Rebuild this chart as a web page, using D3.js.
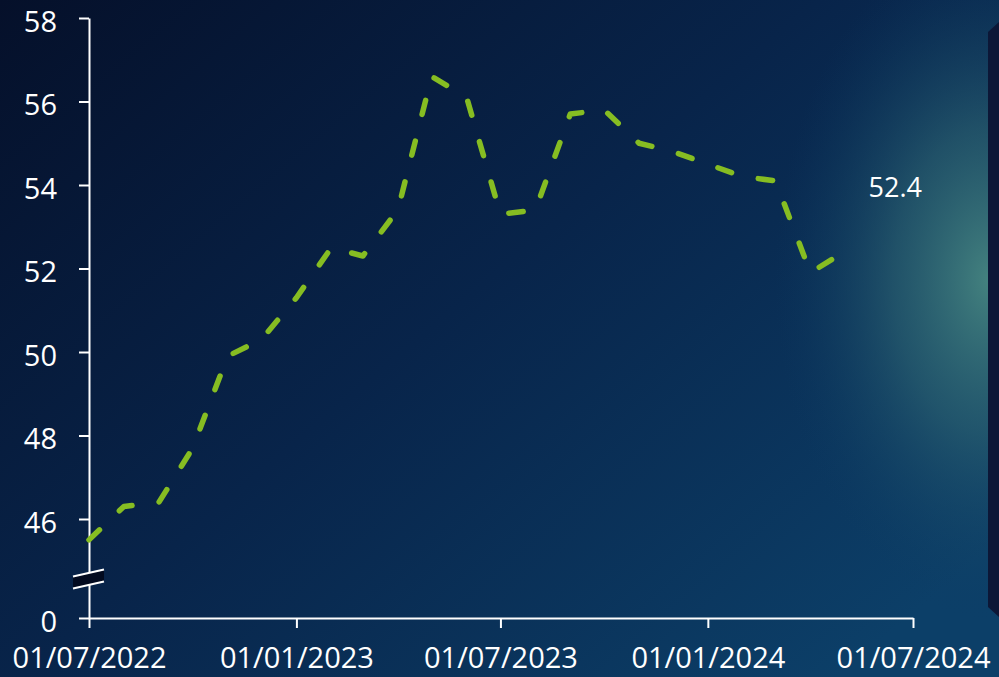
<!DOCTYPE html>
<html>
<head>
<meta charset="utf-8">
<script src="https://cdn.jsdelivr.net/npm/d3@7"></script>
<style>
  html, body { margin: 0; padding: 0; overflow: hidden; background: #07142c; }
  svg { display: block; }
</style>
</head>
<body>
<script>
// monthly readings, Jul 2022 - May 2024
const months = ["2022-07-01", "2022-08-01", "2022-09-01", "2022-10-01", "2022-11-01", "2022-12-01",
                "2023-01-01", "2023-02-01", "2023-03-01", "2023-04-01", "2023-05-01", "2023-06-01",
                "2023-07-01", "2023-08-01", "2023-09-01", "2023-10-01", "2023-11-01", "2023-12-01",
                "2024-01-01", "2024-02-01", "2024-03-01", "2024-04-01", "2024-05-01"];
const values = [45.5, 46.3, 46.4, 47.7, 49.9, 50.3,
                51.3, 52.5, 52.3, 53.4, 56.6, 56.1,
                53.3, 53.4, 55.7, 55.8, 55.0, 54.8,
                54.5, 54.2, 54.1, 51.9, 52.4];
const yTicks = [0, 46, 48, 50, 52, 54, 56, 58];
const xTicks = ["2022-07-01", "2023-01-01", "2023-07-01", "2024-01-01", "2024-07-01"];

const width = 999, height = 677;
const parse = d3.utcParse("%Y-%m-%d");
const data = months.map((m, i) => ({date: parse(m), v: values[i]}));

const svg = d3.select("body").append("svg")
  .attr("width", width)
  .attr("height", height)
  .style("font-family", "'Open Sans', sans-serif");

// background
const defs = svg.append("defs");
const bg = defs.append("linearGradient").attr("id", "bg")
  .attr("x1", 0).attr("y1", 0).attr("x2", 1).attr("y2", 0.8);
bg.append("stop").attr("offset", 0).attr("stop-color", "#05102a");
bg.append("stop").attr("offset", 0.5).attr("stop-color", "#08244a");
bg.append("stop").attr("offset", 1).attr("stop-color", "#0c3f68");

const glow = defs.append("radialGradient").attr("id", "glow");
glow.append("stop").attr("offset", 0).attr("stop-color", "#44827f").attr("stop-opacity", 1);
glow.append("stop").attr("offset", 0.45).attr("stop-color", "#2f6773").attr("stop-opacity", 0.6);
glow.append("stop").attr("offset", 1).attr("stop-color", "#0c3a62").attr("stop-opacity", 0);

svg.append("rect").attr("width", width).attr("height", height).attr("fill", "url(#bg)");
svg.append("ellipse")
  .attr("cx", 990).attr("cy", 280).attr("rx", 215).attr("ry", 340)
  .attr("fill", "url(#glow)");

// dark panel at right edge
svg.append("polygon")
  .attr("points", "988,32 999,22 999,617 988,607")
  .attr("fill", "#0c1737");

// scales
const x = d3.scaleUtc()
  .domain([parse(xTicks[0]), parse(xTicks[xTicks.length - 1])])
  .range([89, 913]);

// broken axis: 0 at the bottom, then 44..58 linear
const y = d3.scaleLinear()
  .domain([0, 44, 58])
  .range([618, 602.5, 18]);

// y axis
svg.append("g")
  .attr("transform", "translate(89,0)")
  .call(d3.axisLeft(y).tickValues(yTicks).tickSize(10).tickSizeOuter(0).tickPadding(22)
    .tickFormat(d3.format("d")))
  .selectAll(".tick text")
  .attr("dy", "0.45em");

// x axis
svg.append("g")
  .attr("transform", "translate(0,618)")
  .call(d3.axisBottom(x).tickValues(xTicks.map(parse)).tickSize(10).tickSizeOuter(0).tickPadding(19)
    .tickFormat(d3.utcFormat("%d/%m/%Y")));

svg.selectAll(".domain, .tick line")
  .attr("stroke", "#ffffff")
  .attr("stroke-width", 2);
svg.selectAll(".tick text")
  .attr("fill", "#ffffff")
  .style("font-size", "29px")
  .style("font-family", "'Open Sans', sans-serif");

// axis break marks
const yb = y(0) - 0.4 * (y(0) - y(46)) + 3;
svg.append("polygon")
  .attr("points", [[73, yb - 5], [104, yb - 12], [104, yb], [73, yb + 7]].map(p => p.join(",")).join(" "))
  .attr("fill", "#020a1f");
svg.append("line")
  .attr("x1", 73).attr("y1", yb - 5).attr("x2", 104).attr("y2", yb - 12)
  .attr("stroke", "#fff").attr("stroke-width", 2);
svg.append("line")
  .attr("x1", 73).attr("y1", yb + 7).attr("x2", 104).attr("y2", yb)
  .attr("stroke", "#fff").attr("stroke-width", 2);

// line
const line = d3.line()
  .x(d => x(d.date))
  .y(d => y(d.v));

svg.append("path")
  .datum(data)
  .attr("d", line)
  .attr("fill", "none")
  .attr("stroke", "#86bd22")
  .attr("stroke-width", 5.5)
  .attr("stroke-dasharray", "14.5,27.5")
  .attr("stroke-linecap", "round")
  .attr("stroke-linejoin", "round");

// last value label
const last = data[data.length - 1];
svg.append("text")
  .attr("x", x(last.date) + 51)
  .attr("y", y(last.v) - 62)
  .attr("text-anchor", "middle")
  .attr("dominant-baseline", "middle")
  .attr("fill", "#ffffff")
  .style("font-size", "27px")
  .text(d3.format(".1f")(last.v));
</script>
</body>
</html>
